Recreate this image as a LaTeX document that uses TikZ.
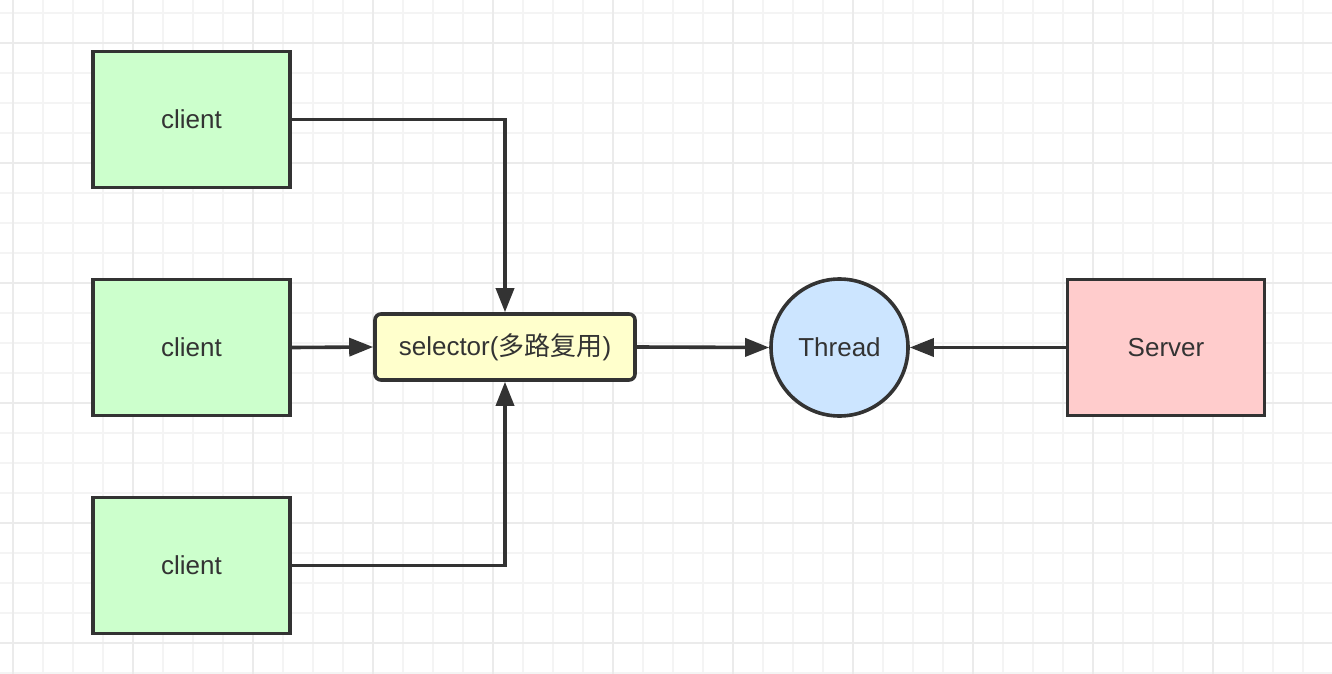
\documentclass[tikz,border=0pt]{standalone}
\usepackage{fontspec}
\setmainfont{Liberation Sans}
\newfontfamily\cjk{Noto Sans CJK SC}
\usetikzlibrary{arrows.meta,shapes.geometric}
\definecolor{ink}{HTML}{333333}
\definecolor{gridminor}{HTML}{F4F4F4}
\definecolor{gridmajor}{HTML}{EBEBEB}
\definecolor{clientfill}{HTML}{CCFFCC}
\definecolor{selfill}{HTML}{FFFFCC}
\definecolor{thfill}{HTML}{CCE5FF}
\definecolor{srvfill}{HTML}{FFCCCC}
\tikzset{
  box/.style={draw=ink, line width=3.6pt, rectangle, minimum width=197pt, minimum height=136pt,
    inner sep=0pt, text=ink, font=\fontsize{26}{30}\selectfont},
  clientbox/.style={box, fill=clientfill},
  serverbox/.style={box, fill=srvfill},
  selbox/.style={draw=ink, line width=3.6pt, rectangle, rounded corners=6pt, fill=selfill,
    minimum width=260pt, minimum height=66pt, inner sep=0pt, text=ink, font=\fontsize{26}{30}\selectfont},
  threadnode/.style={draw=ink, line width=3.6pt, circle, fill=thfill, minimum size=137pt,
    inner sep=0pt, text=ink, font=\fontsize{26}{30}\selectfont},
  conn/.style={draw=ink, line width=3.6pt, -{Triangle[length=24pt,width=18pt]}},
}
\begin{document}
\begin{tikzpicture}[x=1pt,y=-1pt]
\useasboundingbox (0,0) rectangle (1332,674);
\fill[white] (0,0) rectangle (1332,674);
% grid
\foreach \i in {0,...,44} {
  \draw[gridminor, line width=1.5pt] ({13+30*\i},0) -- ({13+30*\i},674);
}
\foreach \j in {0,...,22} {
  \draw[gridminor, line width=1.5pt] (0,{13+30*\j}) -- (1332,{13+30*\j});
}
\foreach \i in {0,...,11} {
  \draw[gridmajor, line width=2pt] ({13+120*\i},0) -- ({13+120*\i},674);
}
\foreach \j in {0,...,5} {
  \draw[gridmajor, line width=2pt] (0,{43+120*\j}) -- (1332,{43+120*\j});
}
% nodes
\node[clientbox] (c1) at (191.5,119.5) {client};
\node[clientbox] (c2) at (191.5,347.5) {client};
\node[clientbox] (c3) at (191.5,565.5) {client};
\node[selbox] (sel) at (505,347) {selector({\cjk 多路复用})};
\node[threadnode] (th) at (839.5,347.5) {Thread};
\node[serverbox] (srv) at (1166,347.5) {Server};
% connectors
\draw[conn] (c1.east) -| (sel.north);
\draw[conn] (c2.east) -- (sel.west);
\draw[conn] (c3.east) -| (sel.south);
\draw[conn] (sel.east) -- (th.west);
\draw[conn] (srv.west) -- (th.east);
\end{tikzpicture}
\end{document}
